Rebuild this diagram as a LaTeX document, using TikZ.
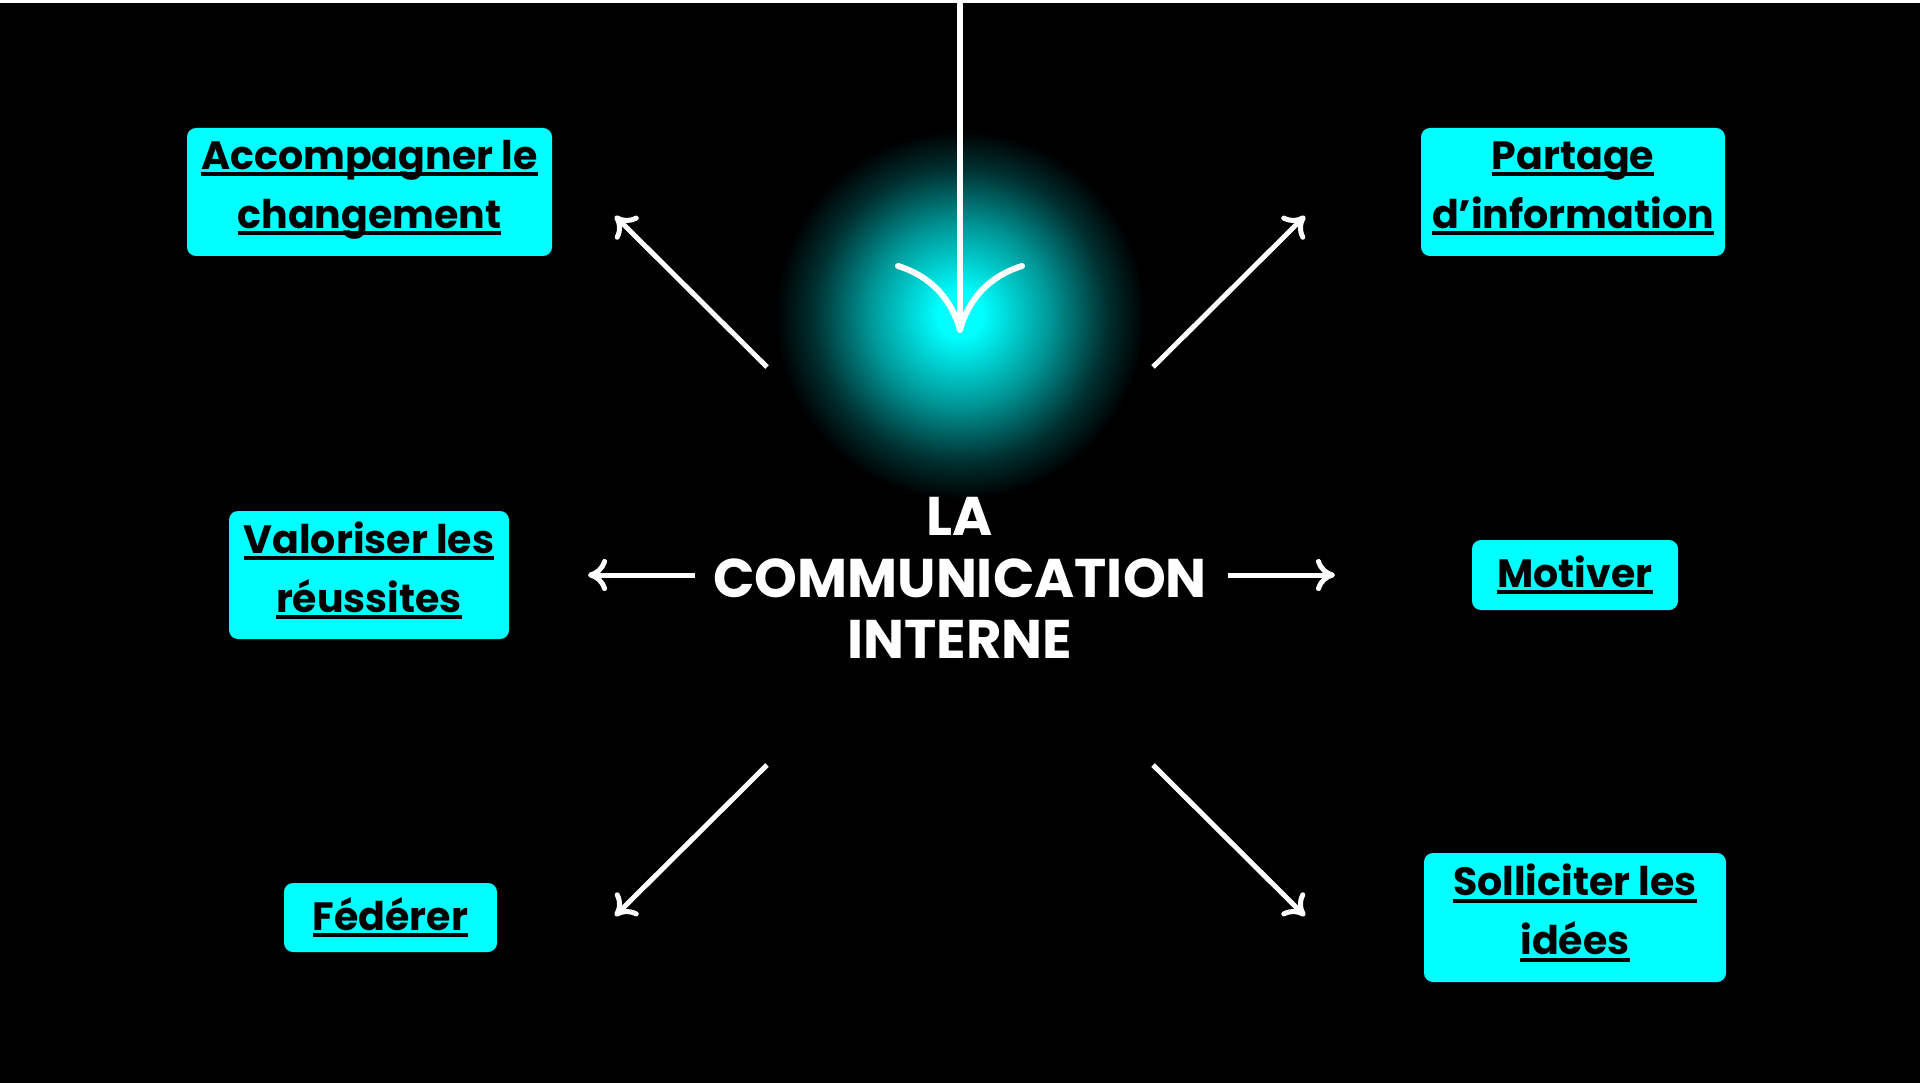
\documentclass[tikz,border=0pt]{standalone}
\usepackage{fontspec}
\setmainfont{Poppins}
\usetikzlibrary{arrows.meta}
\definecolor{cyanvif}{HTML}{00FFFF}
\newsavebox\boitesoul
\newcommand\souligne[1]{\sbox\boitesoul{#1}\rule{0pt}{30pt}\rlap{\rule[-7pt]{\wd\boitesoul}{4pt}}\usebox\boitesoul}
\newcommand\fond{\rule[-16pt]{0pt}{16pt}}
\pgfdeclareradialshading{halo}{\pgfpoint{0bp}{0bp}}{color(0bp)=(cyanvif); color(3bp)=(cyanvif); color(12bp)=(cyanvif!60!black); color(20bp)=(cyanvif!18!black); color(25bp)=(black); color(50bp)=(black)}

\begin{document}
\begin{tikzpicture}[x=1pt,y=-1pt,
  boite/.style={fill=cyanvif, rounded corners=9pt, inner sep=0pt, align=center, font=\bfseries\fontsize{39.5}{59}\selectfont},
  fleche/.style={white, line width=5pt, -{Computer Modern Rightarrow[length=19pt,width=32pt]}},
  grandefleche/.style={white, line width=6pt, -{Computer Modern Rightarrow[length=70pt,width=130pt]}}]
% Background and glow
\fill[black] (0,0) rectangle (1920,1080);
\shade[shading=halo] (960,312) circle (185pt);

% Arrow from above into the glow
\coordinate (haut) at (960,0);
\coordinate (pointe) at (960,330);
\draw[grandefleche] (haut) -- (pointe);

% Arrows out of the title
\coordinate (no1) at (767,364);  \coordinate (no2) at (615,213);
\coordinate (ne1) at (1153,364); \coordinate (ne2) at (1305,213);
\coordinate (so1) at (767,762);  \coordinate (so2) at (615,913);
\coordinate (se1) at (1153,762); \coordinate (se2) at (1305,913);
\coordinate (o1) at (695,572);   \coordinate (o2) at (588,572);
\coordinate (e1) at (1228,572);  \coordinate (e2) at (1335,572);
\foreach \c in {no,ne,so,se,o,e}
\draw[fleche] (\c1) -- (\c2);

% Boxes
\node[boite, minimum width=365pt, minimum height=128pt] (changement) at (369.5,189) {\souligne{Accompagner le}\\\souligne{changement}\fond};
\node[boite, minimum width=304pt, minimum height=128pt] (partage) at (1573,189) {\souligne{Partage}\\\souligne{d’information}\fond};
\node[boite, minimum width=280pt, minimum height=128pt] (valoriser) at (369,572) {\souligne{Valoriser les}\\\souligne{réussites}\fond};
\node[boite, minimum width=206pt, minimum height=70pt] (motiver) at (1575,572) {\souligne{Motiver}};
\node[boite, minimum width=213pt, minimum height=69pt] (federer) at (390.5,914.5) {\souligne{Fédérer}};
\node[boite, minimum width=302pt, minimum height=129pt] (idees) at (1575,914.5) {\souligne{Solliciter les}\\\souligne{idées}\fond};

% Title
\node[white, align=center, font=\bfseries\fontsize{54.5}{61.5}\selectfont] (titre) at (960,575) {LA\\COMMUNICATION\\INTERNE};
\end{tikzpicture}
\end{document}
